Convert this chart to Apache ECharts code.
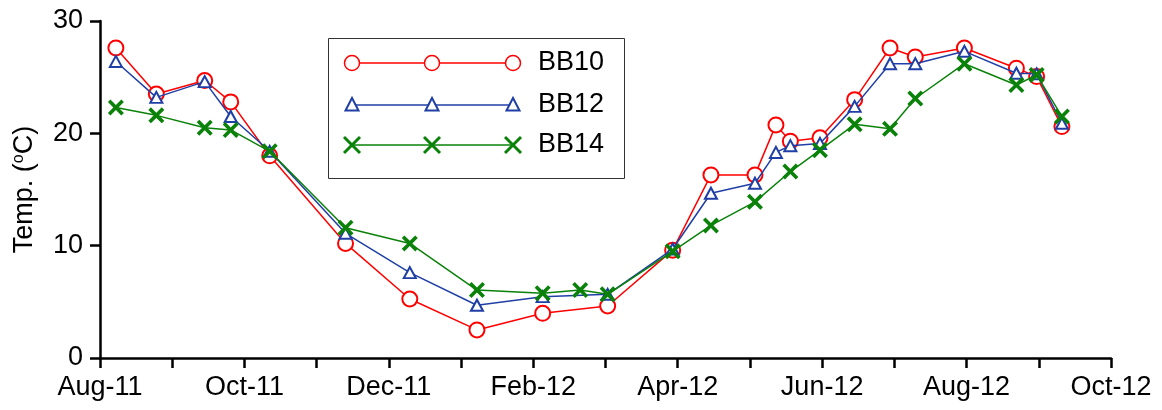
<!DOCTYPE html>
<html>
<head>
<meta charset="utf-8">
<script src="https://cdn.jsdelivr.net/npm/echarts@6/dist/echarts.min.js"></script>
<style>
html,body{margin:0;padding:0;background:#fff;}
#chart{width:1162px;height:410px;}
</style>
</head>
<body>
<div id="chart"></div>
<script>
// x positions in months since Aug-11 (0 = Aug-11, 14 = Oct-12)
var months = [0.22, 0.78, 1.45, 1.81, 2.35, 3.40, 4.29, 5.22, 6.13, 6.65, 7.03, 7.93, 8.46, 9.07, 9.36, 9.56, 9.97, 10.45, 10.94, 11.29, 11.97, 12.69, 12.97, 13.32];
var bb10 = [27.6, 23.5, 24.7, 22.8, 18.0, 10.2, 5.25, 2.5, 3.98, null, 4.63, 9.6, 16.3, 16.3, 20.75, 19.3, 19.6, 23.0, 27.6, 26.8, 27.6, 25.8, 25.05, 20.6];
var bb12 = [26.4, 23.2, 24.6, 21.5, 18.4, 11.1, 7.6, 4.7, 5.46, null, 5.67, 9.7, 14.67, 15.56, 18.3, 18.9, 19.1, 22.4, 26.2, 26.2, 27.3, 25.35, 25.3, 20.9];
var bb14 = [22.3, 21.6, 20.5, 20.3, 18.4, 11.6, 10.2, 6.05, 5.76, 6.05, 5.67, 9.5, 11.8, 13.9, null, 16.6, 18.5, 20.8, 20.4, 23.1, 26.2, 24.3, 25.2, 21.5];
var tickLabels = ['Aug-11', 'Oct-11', 'Dec-11', 'Feb-12', 'Apr-12', 'Jun-12', 'Aug-12', 'Oct-12'];
var seriesNames = ['BB10', 'BB12', 'BB14'];

var RED = '#FF0000', BLUE = '#1F3FA6', GREEN = '#0A820A';
var FONT = 'Liberation Sans, Arial, sans-serif';
var XPATH = 'path://M0,1.6 L1.6,0 L5,3.4 L8.4,0 L10,1.6 L6.6,5 L10,8.4 L8.4,10 L5,6.6 L1.6,10 L0,8.4 L3.4,5 Z';

function pairs(ys) {
  var out = [];
  for (var i = 0; i < months.length; i++) out.push([months[i], ys[i]]);
  return out;
}

var chart = echarts.init(document.getElementById('chart'), null, {renderer: 'canvas'});

// custom legend (three markers per row as in the reference)
var lgX0 = 352, lgX1 = 432, lgX2 = 513, lgRows = [63, 105, 145];
var legendGraphics = [{
  type: 'rect', shape: {x: 328.5, y: 38.5, width: 296, height: 140},
  style: {fill: '#fff', stroke: '#333', lineWidth: 1}, z: 100
}];
var lgColors = [RED, BLUE, GREEN];
lgRows.forEach(function (y, i) {
  legendGraphics.push({type: 'line', shape: {x1: lgX0, y1: y, x2: lgX2, y2: y}, style: {stroke: lgColors[i], lineWidth: 1.5}, z: 101});
  [lgX0, lgX1, lgX2].forEach(function (x) {
    if (i === 0) {
      legendGraphics.push({type: 'circle', shape: {cx: x, cy: y, r: 7.5}, style: {fill: '#fff', stroke: RED, lineWidth: 1.5}, z: 102});
    } else if (i === 1) {
      legendGraphics.push({type: 'polygon', shape: {points: [[x, y - 7], [x - 6.5, y + 5.5], [x + 6.5, y + 5.5]]}, style: {fill: '#fff', stroke: BLUE, lineWidth: 2}, z: 102});
    } else {
      legendGraphics.push({type: 'line', shape: {x1: x - 8, y1: y - 8, x2: x + 8, y2: y + 8}, style: {stroke: GREEN, lineWidth: 3}, z: 102});
      legendGraphics.push({type: 'line', shape: {x1: x - 8, y1: y + 8, x2: x + 8, y2: y - 8}, style: {stroke: GREEN, lineWidth: 3}, z: 102});
    }
  });
  legendGraphics.push({type: 'text', x: 538, y: y, style: {text: seriesNames[i], font: '27px ' + FONT, fill: '#000', verticalAlign: 'middle', align: 'left'}, z: 102});
});

var option = {
  animation: false,
  backgroundColor: '#fff',
  grid: {left: 100, right: 51, top: 21, bottom: 52, containLabel: false},
  xAxis: {
    type: 'value', min: 0, max: 14, interval: 1,
    axisLine: {show: true, lineStyle: {color: '#000', width: 2.5}},
    axisTick: {show: true, length: 10, lineStyle: {color: '#000', width: 2.5}},
    splitLine: {show: false},
    axisLabel: {
      margin: 16, color: '#000', fontSize: 27, fontFamily: FONT,
      formatter: function (v) { return (v % 2 === 0) ? tickLabels[v / 2] : ''; }
    }
  },
  yAxis: {
    type: 'value', min: 0, max: 30, interval: 10,
    name: 'Temp. ({s|o}C)', nameLocation: 'middle', nameGap: 62, nameRotate: 90,
    nameTextStyle: {color: '#000', fontSize: 27, fontFamily: FONT,
      rich: {s: {fontSize: 16, fontFamily: FONT, color: '#000', verticalAlign: 'top', lineHeight: 16}}},
    axisLine: {show: true, lineStyle: {color: '#000', width: 2.5}},
    axisTick: {show: true, length: 10, lineStyle: {color: '#000', width: 2.5}},
    splitLine: {show: false},
    axisLabel: {margin: 17, color: '#000', fontSize: 27, fontFamily: FONT}
  },
  series: [
    {
      name: seriesNames[0], type: 'line', data: pairs(bb10), connectNulls: true,
      symbol: 'emptyCircle', symbolSize: 15,
      lineStyle: {color: RED, width: 1.5},
      itemStyle: {color: RED, borderWidth: 1.5}, z: 2
    },
    {
      name: seriesNames[1], type: 'line', data: pairs(bb12), connectNulls: true,
      symbol: 'emptyTriangle', symbolSize: [12, 11],
      lineStyle: {color: BLUE, width: 1.5},
      itemStyle: {color: BLUE, borderWidth: 2}, z: 3
    },
    {
      name: seriesNames[2], type: 'line', data: pairs(bb14), connectNulls: true,
      symbol: XPATH, symbolSize: 16,
      lineStyle: {color: GREEN, width: 1.5},
      itemStyle: {color: GREEN, borderWidth: 0}, z: 4
    }
  ],
  graphic: legendGraphics
};
chart.setOption(option);
</script>
</body>
</html>
